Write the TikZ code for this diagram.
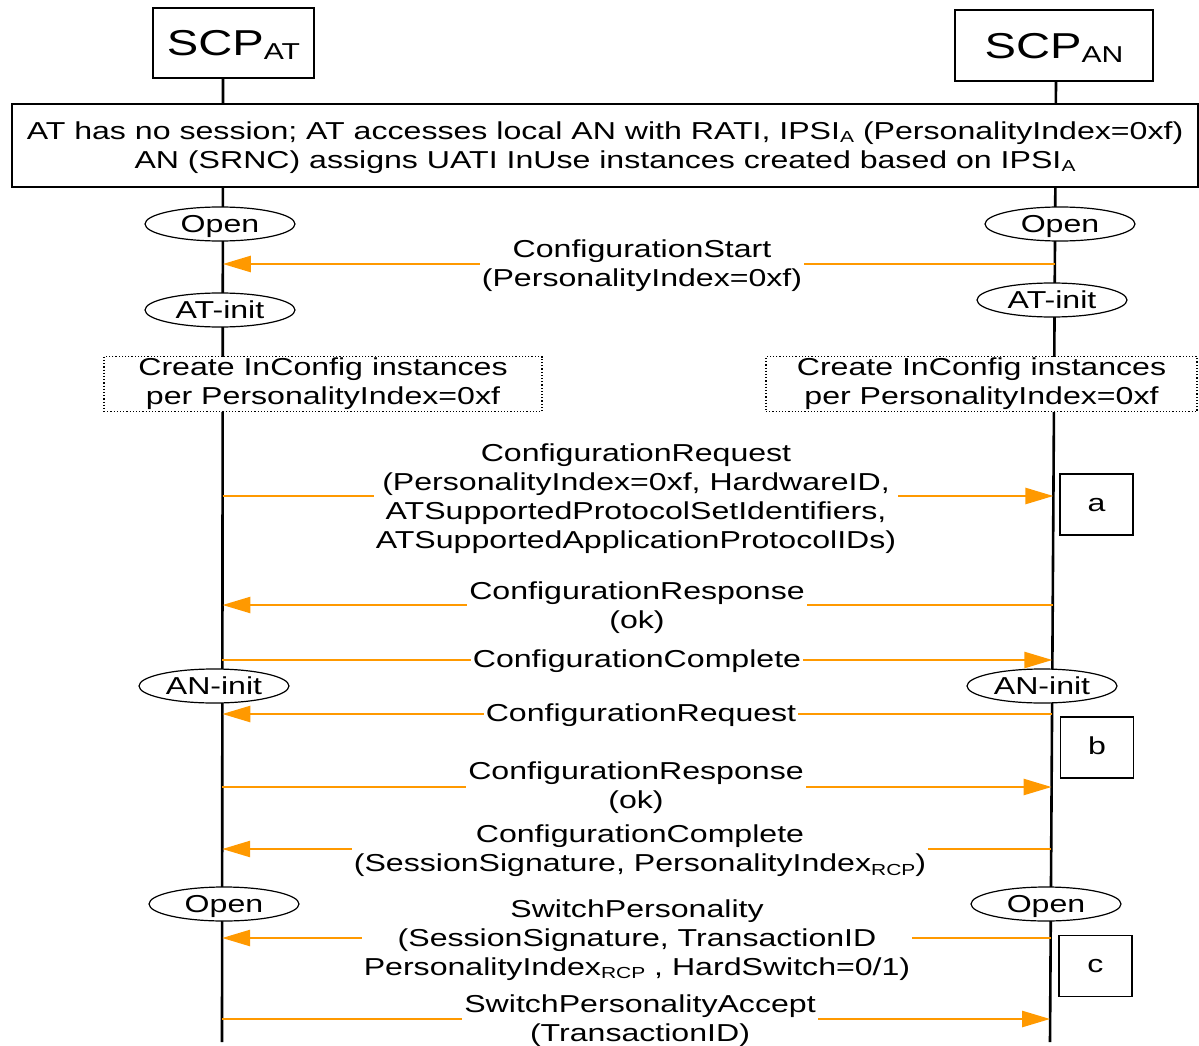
\documentclass[tikz,border=0pt]{standalone}
\usepackage{fontspec}
\setmainfont[FakeStretch=1.31]{Liberation Sans}
\usetikzlibrary{arrows.meta,shapes.geometric,calc}
\definecolor{msgorange}{RGB}{255,153,0}
% small lowered subscript used in names such as IPSI_A
\newcommand\lowsub[1]{\raisebox{-0.25ex}{\fontsize{16}{16}\selectfont #1}}
\newcommand\bigsub[1]{\raisebox{-0.2ex}{\fontsize{23}{23}\selectfont #1}}

\begin{document}
\begin{tikzpicture}[x=1pt,y=-1pt,
  every node/.style={font=\fontsize{24.5}{29}\selectfont},
  entity/.style={draw,line width=2pt,fill=white,inner sep=0,font=\fontsize{36}{40}\selectfont,text height=26,text depth=0},
  life/.style={line width=2.6pt},
  state/.style={ellipse,draw,fill=white,line width=1.2pt,minimum width=150,minimum height=34,inner sep=0,text height=17.5,text depth=0},
  note/.style={draw,fill=white,line width=1.2pt,dotted,align=center,inner sep=0},
  tag/.style={draw,fill=white,line width=1.2pt,minimum width=73,minimum height=61,inner sep=0,text height=13,text depth=0},
  msg/.style={draw=msgorange,line width=2.5pt,-{Triangle[length=28pt,width=16pt]}},
  lbl/.style={fill=white,align=center,inner xsep=2pt,inner ysep=0pt}
]
\useasboundingbox (0,0) rectangle (1199,1046);

% lifelines
\coordinate (LT) at (223,78);
\coordinate (LB) at (222,1042);
\coordinate (RT) at (1056,81);
\coordinate (RB) at (1050,1042);
\draw[life] (LT) -- (LB);
\draw[life] (RT) -- (RB);

% participants
\node[entity,minimum width=161,minimum height=70] (at) at (233.5,43) {SCP\bigsub{AT}};
\node[entity,minimum width=198,minimum height=71] (an) at (1054,45.5) {SCP\bigsub{AN}};

% session set-up note: frame, then its two text lines
\node[draw,fill=white,line width=1.5pt,minimum width=1186,minimum height=83,inner sep=0] (sess) at (605,145.5) {};
\node[align=center,inner sep=0] (sesstext) at ([yshift=-2pt]sess.center)
  {AT has no session; AT accesses local AN with RATI, IPSI\lowsub{A} (PersonalityIndex=0xf)\\
   AN (SRNC) assigns UATI InUse instances created based on IPSI\lowsub{A}};

% protocol states
\node[state] (openL) at (220,224) {Open};
\node[state] (openR) at (1060,224) {Open};
\node[state] (atinitL) at (220,310) {AT-init};
\node[state] (atinitR) at (1052,300) {AT-init};
\node[state] (aninitL) at (214,686) {AN-init};
\node[state] (aninitR) at (1042,686) {AN-init};
\node[state] (open2L) at (224,904) {Open};
\node[state] (open2R) at (1046,904) {Open};

% InConfig notes
\node[note,minimum width=438,minimum height=55] (cfgL) at (323,384) {Create InConfig instances\\per PersonalityIndex=0xf};
\node[note,minimum width=431,minimum height=55] (cfgR) at (981.5,384) {Create InConfig instances\\per PersonalityIndex=0xf};

% side tags
\node[tag] (tagA) at (1096.5,504.5) {a};
\node[tag] (tagB) at (1097,747.5) {b};
\node[tag] (tagC) at (1095.5,966) {c};

% message end points on the lifelines (same height on both sides)
\foreach \n/\y in {1/264,2/496,3/605,4/660,5/714,6/787,7/849,8/938,9/1019}{
  \pgfmathsetmacro\xl{223-1*(\y-78)/964}
  \pgfmathsetmacro\xr{1056-6*(\y-81)/961}
  \coordinate (L\n) at (\xl,\y);
  \coordinate (R\n) at (\xr,\y);
}

% messages
\draw[msg] (R1) -- (L1);
\node[lbl] (m1) at (642,266) {ConfigurationStart\\(PersonalityIndex=0xf)};

\draw[msg] (L2) -- (R2);
\node[lbl] (m2) at (636,499) {ConfigurationRequest\\(PersonalityIndex=0xf, HardwareID,\\ATSupportedProtocolSetIdentifiers,\\ATSupportedApplicationProtocolIDs)};

\draw[msg] (R3) -- (L3);
\node[lbl] (m3) at (637,607.5) {ConfigurationResponse\\(ok)};

\draw[msg] (L4) -- (R4);
\node[lbl] (m4) at (637,661) {ConfigurationComplete};

\draw[msg] (R5) -- (L5);
\node[lbl] (m5) at (641,715) {ConfigurationRequest};

\draw[msg] (L6) -- (R6);
\node[lbl] (m6) at (636,788) {ConfigurationResponse\\(ok)};

\draw[msg] (R7) -- (L7);
\node[lbl] (m7) at (640,851) {ConfigurationComplete\\(SessionSignature, PersonalityIndex\lowsub{RCP})};

\draw[msg] (R8) -- (L8);
\node[lbl] (m8) at (637,940) {SwitchPersonality\\(SessionSignature, TransactionID\\PersonalityIndex\lowsub{RCP} , HardSwitch=0/1)};

\draw[msg] (L9) -- (R9);
\node[lbl] (m9) at (640,1021) {SwitchPersonalityAccept\\(TransactionID)};

\end{tikzpicture}
\end{document}
